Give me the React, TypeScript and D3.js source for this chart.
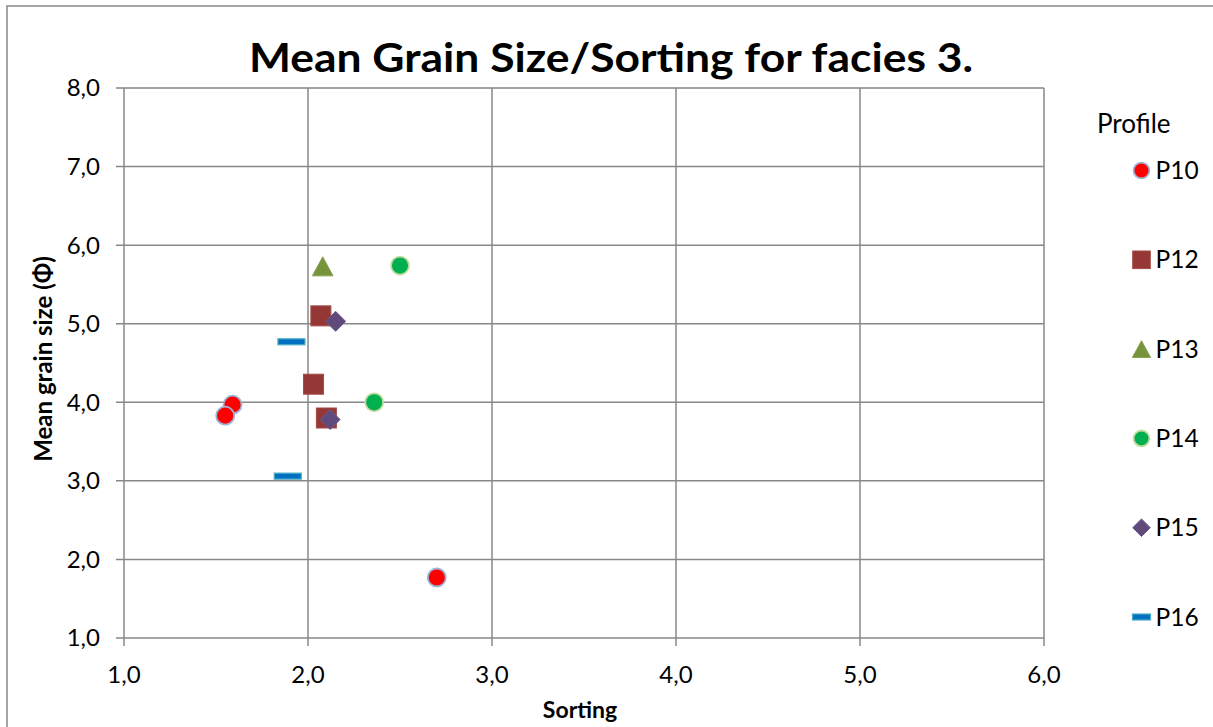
import React from 'react';
import * as d3 from 'd3';

const seriesNames = ['P10', 'P12', 'P13', 'P14', 'P15', 'P16'];
const p10Sorting = [1.59, 1.55, 2.70];
const p10Mean = [3.97, 3.83, 1.77];
const p12Sorting = [2.07, 2.03, 2.10];
const p12Mean = [5.10, 4.23, 3.80];
const p13Sorting = [2.08];
const p13Mean = [5.73];
const p14Sorting = [2.50, 2.36];
const p14Mean = [5.74, 4.00];
const p15Sorting = [2.15, 2.12];
const p15Mean = [5.03, 3.78];
const p16Sorting = [1.91, 1.89];
const p16Mean = [4.77, 3.06];
const xTicks = [1, 2, 3, 4, 5, 6];
const yTicks = [1, 2, 3, 4, 5, 6, 7, 8];

const titleText = 'Mean Grain Size/Sorting for facies 3.';
const xTitle = 'Sorting';
const yTitle = 'Mean grain size (Φ)';
const legendTitle = 'Profile';

const W = 1213;
const H = 727;
const plot = { left: 124, right: 1044, top: 88, bottom: 638 };
const FONT = 'Lato, "Open Sans", sans-serif';
const GRID = '#878787';

const styles: Record<string, { shape: string; fill: string; stroke: string }> = {
  P10: { shape: 'circle', fill: '#FF0000', stroke: '#9DB5D8' },
  P12: { shape: 'square', fill: '#953735', stroke: '#A34B49' },
  P13: { shape: 'triangle', fill: '#77933C', stroke: '#86A04C' },
  P14: { shape: 'circle', fill: '#00B050', stroke: '#C5DCA0' },
  P15: { shape: 'diamond', fill: '#604A7B', stroke: '#6E5A88' },
  P16: { shape: 'dash', fill: '#0070C0', stroke: '#4BACC6' },
};

const seriesData = [
  { name: 'P10', xs: p10Sorting, ys: p10Mean },
  { name: 'P12', xs: p12Sorting, ys: p12Mean },
  { name: 'P13', xs: p13Sorting, ys: p13Mean },
  { name: 'P14', xs: p14Sorting, ys: p14Mean },
  { name: 'P15', xs: p15Sorting, ys: p15Mean },
  { name: 'P16', xs: p16Sorting, ys: p16Mean },
];

function Marker({ name, cx, cy, s = 1, dashW = 13.5 }: { name: string; cx: number; cy: number; s?: number; dashW?: number }) {
  const st = styles[name];
  if (st.shape === 'circle') {
    return <circle cx={cx} cy={cy} r={9 * s} fill={st.fill} stroke={st.stroke} strokeWidth={1.8} />;
  }
  if (st.shape === 'square') {
    const a = 10 * s;
    return <rect x={cx - a} y={cy - a} width={2 * a} height={2 * a} fill={st.fill} stroke={st.stroke} strokeWidth={1} />;
  }
  if (st.shape === 'triangle') {
    const w = 10.3 * s;
    const h = 19 * s;
    const path = d3.path();
    path.moveTo(cx, cy - h * 0.5);
    path.lineTo(cx + w, cy + h * 0.5);
    path.lineTo(cx - w, cy + h * 0.5);
    path.closePath();
    return <path d={path.toString()} fill={st.fill} stroke={st.stroke} strokeWidth={1} />;
  }
  if (st.shape === 'diamond') {
    const a = 10 * s;
    const path = d3.path();
    path.moveTo(cx, cy - a);
    path.lineTo(cx + a, cy);
    path.lineTo(cx, cy + a);
    path.lineTo(cx - a, cy);
    path.closePath();
    return <path d={path.toString()} fill={st.fill} stroke={st.stroke} strokeWidth={1} />;
  }
  const hw = dashW;
  return <rect x={cx - hw} y={cy - 3} width={2 * hw} height={6} fill={st.fill} stroke={st.stroke} strokeWidth={1.2} />;
}

export default function App() {
  const x = d3.scaleLinear().domain([1, 6]).range([plot.left, plot.right]);
  const y = d3.scaleLinear().domain([1, 8]).range([plot.bottom, plot.top]);
  const fmt = (v: number) => d3.format('.1f')(v).replace('.', ',');
  const legendY = d3.scalePoint<string>().domain(seriesNames).range([170.5, 617]);

  return (
    <svg
      width={W}
      height={H}
      style={{ position: 'absolute', left: 0, top: 0, background: '#fff' }}
      fontFamily={FONT}
    >
      <rect x={0} y={0} width={W} height={H} fill="#fff" />
      <rect x={7} y={6} width={W + 20} height={H + 20} fill="none" stroke={GRID} strokeWidth={1.5} />

      {/* gridlines */}
      {yTicks.map((t) => (
        <line key={'gy' + t} x1={plot.left - 8} x2={plot.right} y1={y(t)} y2={y(t)} stroke={GRID} strokeWidth={1.5} />
      ))}
      {xTicks.map((t) => (
        <line key={'gx' + t} x1={x(t)} x2={x(t)} y1={plot.top} y2={plot.bottom + 8} stroke={GRID} strokeWidth={1.5} />
      ))}

      {/* tick labels */}
      {yTicks.map((t) => (
        <text key={'ly' + t} x={100} y={y(t)} dy="0.35em" textAnchor="end" fontSize={24} fill="#000">
          {fmt(t)}
        </text>
      ))}
      {xTicks.map((t) => (
        <text key={'lx' + t} x={x(t)} y={683} textAnchor="middle" fontSize={24} fill="#000">
          {fmt(t)}
        </text>
      ))}

      {/* axis titles */}
      <text x={580} y={718} textAnchor="middle" fontSize={23} fontWeight="bold" fill="#000">
        {xTitle}
      </text>
      <text
        transform={`translate(52, ${(plot.top + plot.bottom) / 2 - 4}) rotate(-90)`}
        textAnchor="middle"
        fontSize={24}
        fontWeight="bold"
        fill="#000"
      >
        {yTitle}
      </text>

      {/* title */}
      <text x={611} y={72} textAnchor="middle" fontSize={40} fontWeight="bold" fill="#000" textLength={724} lengthAdjust="spacingAndGlyphs">
        {titleText}
      </text>

      {/* points */}
      {seriesData.map((s) => (
        <g key={s.name}>
          {s.xs.map((v, i) => (
            <Marker key={i} name={s.name} cx={x(v)} cy={y(s.ys[i])} />
          ))}
        </g>
      ))}

      {/* legend */}
      <text x={1097} y={124} dy="0.35em" fontSize={26} fill="#000">
        {legendTitle}
      </text>
      {seriesNames.map((n) => (
        <g key={'lg' + n}>
          <Marker name={n} cx={1141.5} cy={legendY(n) as number} s={0.88} dashW={9} />
          <text x={1155.5} y={legendY(n) as number} dy="0.35em" fontSize={24.5} fill="#000">
            {n}
          </text>
        </g>
      ))}
    </svg>
  );
}
